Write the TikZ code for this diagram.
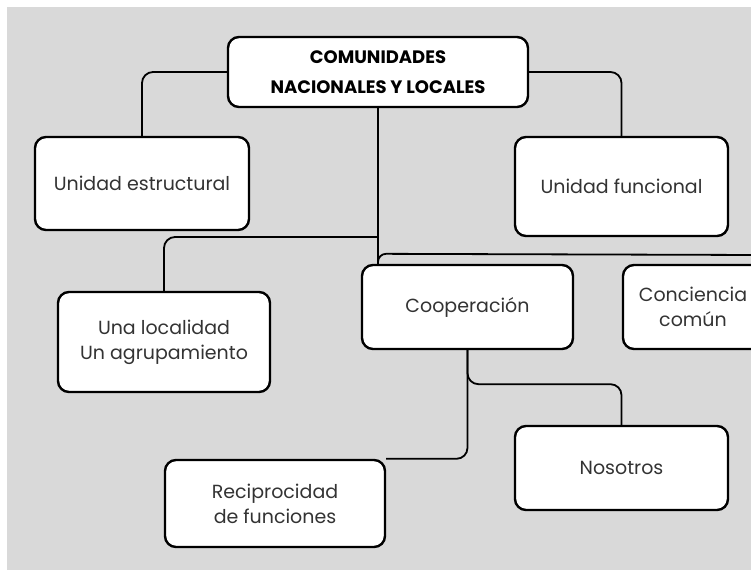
\documentclass[tikz,border=0pt]{standalone}
\usepackage{fontspec}
\setmainfont{Poppins}
\usepackage{tikz}

\begin{document}
\begin{tikzpicture}[x=1pt,y=1pt]
        \tikzstyle{every node}+=[inner sep=0pt]
        \tikzstyle{box}=[draw=black, fill=white, line width=2.4pt, rounded corners=11pt, align=center, text=black!80, font=\fontsize{19}{25}\selectfont]
        \tikzstyle{link}=[draw=black, line width=1.8pt, rounded corners=11pt]
        \useasboundingbox (0,0) rectangle (751,-570);
        \clip (0,0) rectangle (751,-570);
        \fill [black!15] (7,-7) rectangle (751,-570);
        \node [box, text=black, minimum width=300pt, minimum height=70pt, font=\fontsize{18}{30}\selectfont\bfseries] (comunidades) at (378,-72) {COMUNIDADES\\NACIONALES Y LOCALES};
        \node [box, minimum width=214pt, minimum height=93pt] (estructural) at (142,-183.5) {Unidad estructural};
        \node [box, minimum width=213pt, minimum height=99pt] (funcional) at (621.5,-186.5) {Unidad funcional};
        \node [box, minimum width=212pt, minimum height=100pt] (localidad) at (164,-342) {Una localidad\\Un agrupamiento};
        \node [box, minimum width=211pt, minimum height=84pt] (cooperacion) at (467.5,-307) {Cooperación};
        \node [box, minimum width=140pt, minimum height=84pt] (conciencia) at (693,-307) {Conciencia\\común};
        \node [box, minimum width=220pt, minimum height=87pt] (reciprocidad) at (275,-503.5) {Reciprocidad\\de funciones};
        \node [box, minimum width=213pt, minimum height=84pt] (nosotros) at (621.5,-468) {Nosotros};
        \coordinate (split) at (377,-237);
        \coordinate (edge) at (760,-255);
        \draw [link] (comunidades.west) -| (estructural.north);
        \draw [link] (comunidades.east) -| (funcional.north);
        \draw [link] (comunidades.south) -- (comunidades.south |- cooperacion.north);
        \draw [link] (split) -| (localidad.north);
        \draw [link, rounded corners=8pt] (comunidades.south |- cooperacion.north) -- ++(0,10) -- (edge);
        \draw [link] (cooperacion.south) |- (reciprocidad.north east);
        \draw [link] (cooperacion.south) -- ++(0,-34) -| (nosotros.north);
    \end{tikzpicture}
\end{document}
